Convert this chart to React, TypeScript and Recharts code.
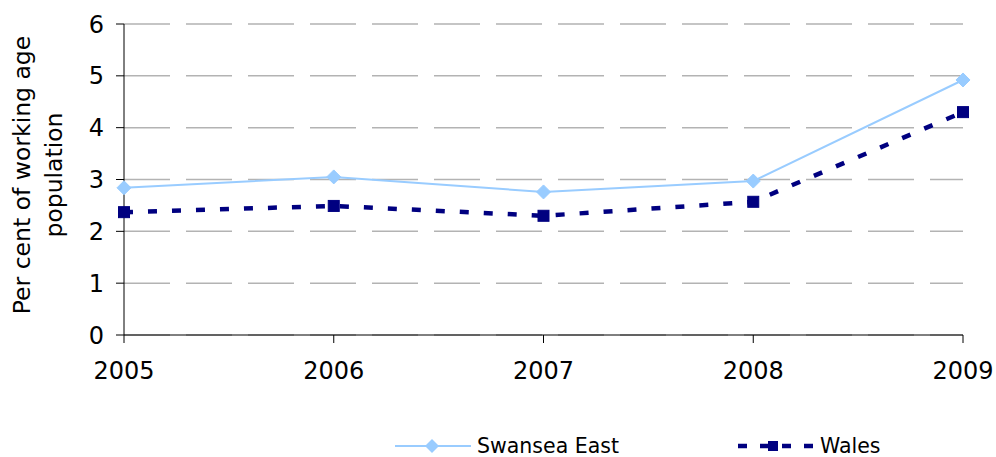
import { LineChart, Line, XAxis, YAxis, CartesianGrid } from "recharts";

const years = ["2005", "2006", "2007", "2008", "2009"];
const swanseaEast = [2.84, 3.05, 2.76, 2.97, 4.92];
const wales = [2.37, 2.49, 2.3, 2.57, 4.3];
const yTicks = [0, 1, 2, 3, 4, 5, 6];

const chartData = years.map((year, i) => ({
  year,
  swanseaEast: swanseaEast[i],
  wales: wales[i],
}));

const FONT = "DejaVu Sans, Verdana, sans-serif";
const LIGHT = "#99ccff";
const NAVY = "#000080";

function Diamond(props: any) {
  const { cx, cy } = props;
  if (cx == null || cy == null) return null;
  const r = 7;
  return <path d={`M${cx},${cy - r}L${cx + r},${cy}L${cx},${cy + r}L${cx - r},${cy}Z`} fill={LIGHT} stroke={LIGHT} />;
}

function Square(props: any) {
  const { cx, cy } = props;
  if (cx == null || cy == null) return null;
  const s = 11;
  return <rect x={cx - s / 2} y={cy - s / 2} width={s} height={s} fill={NAVY} stroke={NAVY} />;
}

function YLabel() {
  return (
    <text transform="translate(0,175) rotate(-90)" textAnchor="middle" fontFamily={FONT} fontSize={23.5} fill="#000">
      <tspan x={0} y={30}>Per cent of working age</tspan>
      <tspan x={0} y={62}>population</tspan>
    </text>
  );
}

const legendRow = {
  position: "absolute" as const,
  top: 436,
  height: 20,
  lineHeight: "20px",
  display: "flex",
  alignItems: "center",
  fontFamily: FONT,
  fontSize: 20.5,
};

export default function App() {
  return (
    <div style={{ position: "absolute", left: 0, top: 0, width: 996, height: 457, background: "#fff", overflow: "hidden" }}>
      <LineChart width={996} height={457} data={chartData} margin={{ top: 24, right: 33, left: 0, bottom: 0 }}>
        <CartesianGrid
          horizontal
          vertical={false}
          stroke="#b3b3b3"
          strokeWidth={1.5}
          strokeDasharray="46 16"
        />
        <XAxis
          dataKey="year"
          height={122}
          stroke="#000"
          tickSize={8}
          tick={{ fill: "#000", fontFamily: FONT, fontSize: 24 }}
          tickMargin={19}
          padding={{ left: 0, right: 0 }}
        />
        <YAxis
          width={124}
          domain={[0, 6]}
          ticks={yTicks}
          stroke="#000"
          tickSize={8}
          tickMargin={12}
          tick={{ fill: "#000", fontFamily: FONT, fontSize: 24 }}
          label={<YLabel />}
        />
        <Line
          dataKey="swanseaEast"
          stroke={LIGHT}
          strokeWidth={2}
          dot={<Diamond />}
          activeDot={false}
          type="linear"
          isAnimationActive={false}
        />
        <Line
          dataKey="wales"
          stroke={NAVY}
          strokeWidth={4.5}
          strokeDasharray="9 15"
          dot={<Square />}
          activeDot={false}
          type="linear"
          isAnimationActive={false}
        />
      </LineChart>
      <div style={{ ...legendRow, left: 395 }}>
        <svg width={78} height={20}>
          <line x1={0} y1={10} x2={76} y2={10} stroke={LIGHT} strokeWidth={2} />
          <path d="M37,3L44,10L37,17L30,10Z" fill={LIGHT} />
        </svg>
        <span style={{ marginLeft: 4 }}>Swansea East</span>
      </div>
      <div style={{ ...legendRow, left: 738 }}>
        <svg width={78} height={20}>
          <line x1={0} y1={10} x2={76} y2={10} stroke={NAVY} strokeWidth={4.5} strokeDasharray="9 13" />
          <rect x={30} y={5} width={10} height={10} fill={NAVY} />
        </svg>
        <span style={{ marginLeft: 4 }}>Wales</span>
      </div>
    </div>
  );
}
